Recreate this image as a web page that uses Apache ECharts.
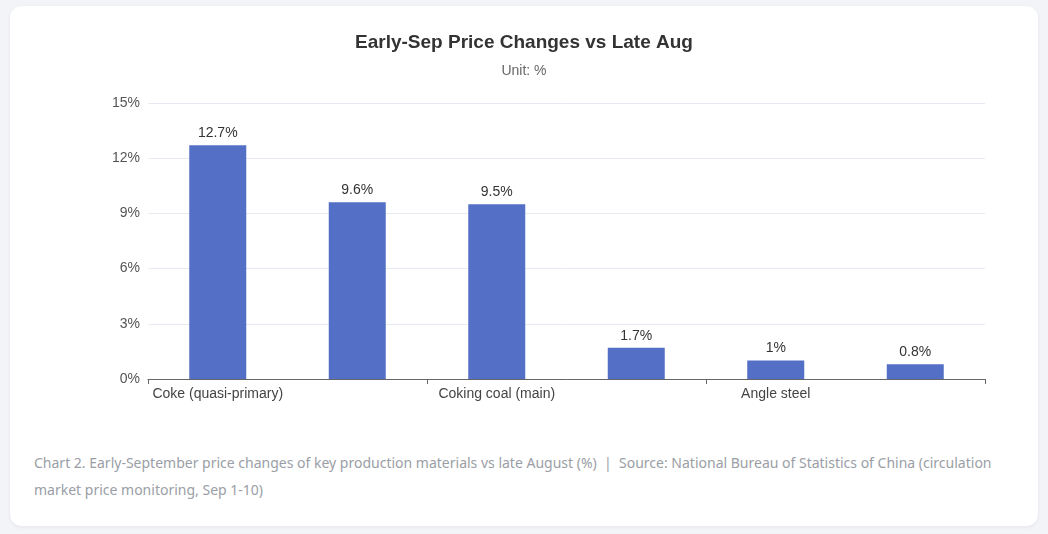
<!DOCTYPE html>
<html><head><meta charset="utf-8">
<script src="https://cdn.jsdelivr.net/npm/echarts@6/dist/echarts.min.js"></script>
<style>
html,body{margin:0;padding:0;background:#f3f4f7;width:1048px;height:534px;overflow:hidden;font-family:"Noto Sans","Open Sans",sans-serif;}
#card{position:absolute;left:10px;top:6px;width:1028px;height:520px;background:#fff;border-radius:12px;box-shadow:0 1px 4px rgba(0,0,0,0.06);}
#chart{position:absolute;left:0;top:0;width:1028px;height:420px;}
#cap{position:absolute;left:24px;top:443px;width:990px;font-size:14px;line-height:27px;color:#9a9ea6;}
</style></head><body>
<div id="card"><div id="chart"></div>
<div id="cap">Chart 2. Early-September price changes of key production materials vs late August (%) &nbsp;|&nbsp; Source: National Bureau of Statistics of China (circulation market price monitoring, Sep 1-10)</div></div>
<script>
const categories = ["Coke (quasi-primary)","Coke (secondary metallurgical)","Coking coal (main)","Rebar","Angle steel","Hot-rolled sheet"];
const values = [12.7,9.6,9.5,1.7,1,0.8];
const yTicks = {min:0,max:15,interval:3};
const c = echarts.init(document.getElementById('chart'));
c.setOption({
  title:{text:"Early-Sep Price Changes vs Late Aug",subtext:"Unit: %",left:'center',top:22,
    textStyle:{fontSize:19,fontWeight:'bold',color:'#333'},subtextStyle:{fontSize:14,color:'#666'},itemGap:12},
  grid:{left:138,right:53,top:97,bottom:47},
  xAxis:{type:'category',data:categories,axisLabel:{interval:1,fontSize:14,color:'#444'},
    axisLine:{lineStyle:{color:'#666'}},axisTick:{show:true,interval:1,length:5,lineStyle:{color:'#666'}}},
  yAxis:{type:'value',min:yTicks.min,max:yTicks.max,interval:yTicks.interval,
    axisLabel:{formatter:'{value}%',fontSize:14,color:'#555'},splitLine:{lineStyle:{color:'#e8eaf2'}}},
  series:[{type:'bar',data:values,barWidth:57,itemStyle:{color:'#5470c6'},
    label:{show:true,position:'top',formatter:'{c}%',fontSize:14,color:'#333'}}]
});
</script></body></html>
